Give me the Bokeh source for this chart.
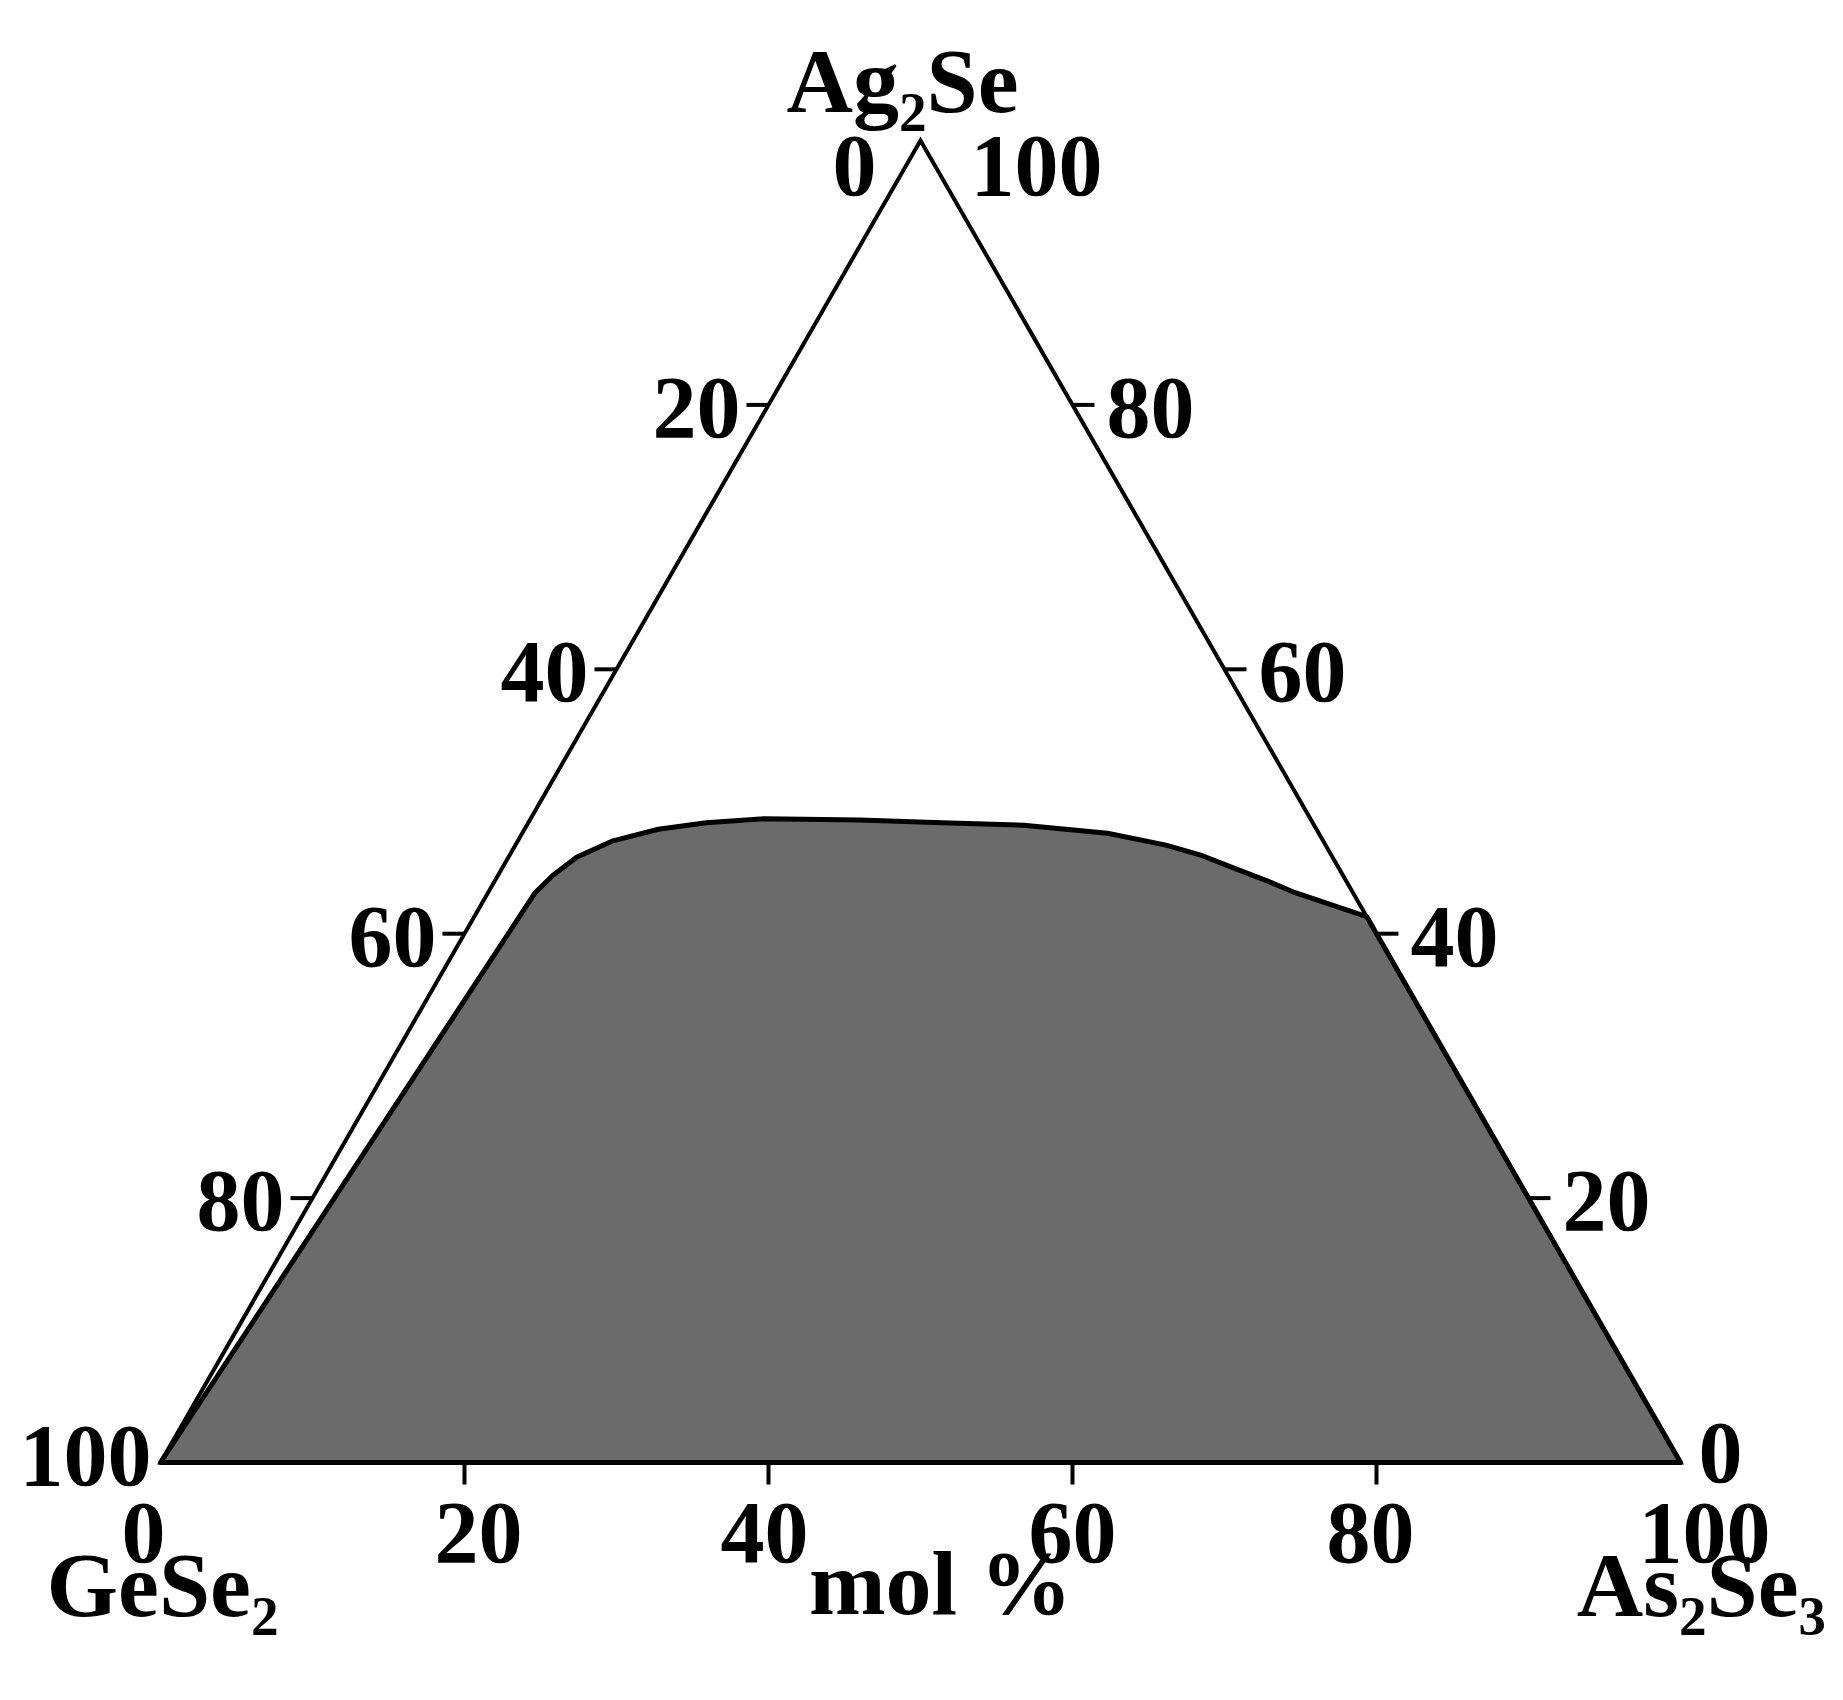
import math
from bokeh.plotting import figure
from bokeh.models import ColumnDataSource, Range1d
from bokeh.core.properties import value
from bokeh.embed import file_html
from bokeh.resources import INLINE

# ---- data (mol %) ----
# boundary of the glass-forming region
region_as2se3 = [0, 3.1, 3.6, 4.5, 6.2, 8.8, 11.7, 15.4, 21.7, 27.2, 32.7, 38.5, 42.8, 45.6, 48.3, 50.8, 53.1, 55.9, 58.7, 100]
region_ag2se = [0, 43.1, 44.4, 45.8, 47.0, 47.9, 48.4, 48.7, 48.6, 48.4, 48.2, 47.6, 46.7, 45.9, 44.9, 44.0, 43.1, 42.2, 41.3, 0]

tick_values = [20, 40, 60, 80]
corner_names = ["Ag\u2082Se", "GeSe\u2082", "As\u2082Se\u2083"]
axis_title = "mol %"

S = math.sqrt(3) / 2


def tx(as_, ag):
    return as_ + ag / 2.0


def ty(ag):
    return ag * S


# scales (px per data unit)
KX = 15.2
KY = 15.265
W, H = 1827, 1684
x0 = -160 / KX
y_top = 1462 / KY

p = figure(width=W, height=H, output_backend="svg", toolbar_location=None,
           x_range=Range1d(x0, x0 + W / KX), y_range=Range1d(y_top - H / KY, y_top),
           x_axis_location=None, y_axis_location=None, min_border=0)
p.grid.visible = False
p.outline_line_color = None
p.background_fill_color = "white"

FONT = value("Liberation Serif")
TICK_FS = "88px"
NAME_FS = "92px"

# region
rx = [tx(a, g) for a, g in zip(region_as2se3, region_ag2se)]
ry = [ty(g) for g in region_ag2se]
p.patch(rx, ry, fill_color="#6b6b6b", line_color="black", line_width=5, line_join="round")

# triangle frame
vx = [tx(0, 0), tx(100, 0), tx(0, 100)]
vy = [ty(0), ty(0), ty(100)]
p.patch(vx, vy, fill_color=None, line_color="black", line_width=4, line_join="miter")

TL = 22  # tick length px

# bottom ticks (As2Se3 content)
bx = [tx(v, 0) for v in tick_values]
by = [ty(0) for v in tick_values]
p.segment(bx, by, bx, [b - TL / KY for b in by], line_color="black", line_width=4)
p.text(bx, by, text=[str(v) for v in tick_values], text_font=FONT, text_font_style="bold",
       text_font_size=TICK_FS, text_align="center", text_baseline="middle",
       x_offset=[14, -4, 0, -6], y_offset=70)

# left ticks (GeSe2 content, 0 at apex)
lag = [100 - v for v in tick_values]
lx = [tx(0, g) for g in lag]
ly = [ty(g) for g in lag]
p.segment(lx, ly, [x - TL / KX for x in lx], ly, line_color="black", line_width=4)
p.text(lx, ly, text=[str(v) for v in tick_values], text_font=FONT, text_font_style="bold",
       text_font_size=TICK_FS, text_align="right", text_baseline="middle",
       x_offset=-(TL + 6), y_offset=3)

# right ticks (Ag2Se content)
rgx = [tx(100 - v, v) for v in tick_values]
rgy = [ty(v) for v in tick_values]
p.segment(rgx, rgy, [x + TL / KX for x in rgx], rgy, line_color="black", line_width=4)
p.text(rgx, rgy, text=[str(v) for v in tick_values], text_font=FONT, text_font_style="bold",
       text_font_size=TICK_FS, text_align="left", text_baseline="middle",
       x_offset=TL + 12, y_offset=3)

# corner tick labels
corner_src = ColumnDataSource(dict(
    x=[tx(0, 0), tx(0, 0), tx(100, 0), tx(100, 0), tx(0, 100), tx(0, 100)],
    y=[ty(0), ty(0), ty(0), ty(0), ty(100), ty(100)],
    t=["100", "0", "0", "100", "0", "100"],
    align=["right", "center", "left", "center", "right", "left"],
    xo=[-9, -17, 18, 24, -44, 50],
    yo=[-7, 70, -10, 70, 25, 25],
))
p.text("x", "y", text="t", source=corner_src, text_font=FONT, text_font_style="bold",
       text_font_size=TICK_FS, text_align="align", text_baseline="middle",
       x_offset="xo", y_offset="yo")

# component names and axis title
name_src = ColumnDataSource(dict(
    x=[tx(0, 100), tx(0, 0), tx(100, 0), tx(50, 0)],
    y=[ty(100), ty(0), ty(0), ty(0)],
    t=[corner_names[0], corner_names[1], corner_names[2], axis_title],
    xo=[-18, 2, 21, 20],
    yo=[-60, 122, 122, 120],
))
p.text("x", "y", text="t", source=name_src, text_font=FONT, text_font_style="bold",
       text_font_size=NAME_FS, text_align="center", text_baseline="middle",
       x_offset="xo", y_offset="yo")

open("out.html", "w").write(file_html(p, INLINE))
